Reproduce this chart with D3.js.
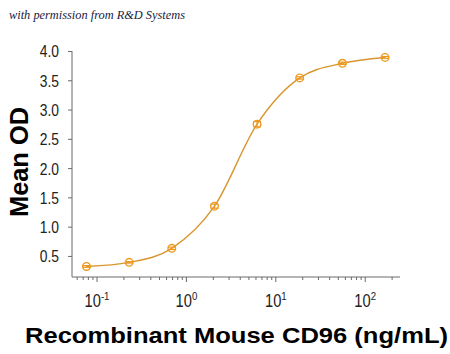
<!DOCTYPE html>
<html><head><meta charset="utf-8">
<script src="https://cdn.jsdelivr.net/npm/d3@7"></script>
<style>
html,body{margin:0;padding:0;background:#fff;}
svg{display:block;}
</style></head>
<body>
<svg id="chart" width="450" height="354"></svg>
<script>
// Data
const concentrations = [0.0762, 0.229, 0.686, 2.06, 6.17, 18.5, 55.6, 166.7];
const meanOD = [0.32, 0.39, 0.63, 1.35, 2.75, 3.54, 3.79, 3.89];
const errOD = [0.015, 0.012, 0.02, 0.035, 0.045, 0.02, 0.02, 0.015];
const yTicks = [0.5, 1.0, 1.5, 2.0, 2.5, 3.0, 3.5, 4.0];
const xMajorExponents = [-1, 0, 1, 2];

const svg = d3.select("#chart");
const lineColor = "#D9952E";
const markColor = "#EE9A22";
const axisColor = "#6a6a6a";
const tickFont = "'Liberation Sans',Arial,sans-serif";
const squeeze = 0.84;

const x = d3.scaleLog().domain([0.0525, 245]).range([72, 400]);
const y = d3.scaleLinear().domain([0.14, 4.0]).range([277, 51]);

// watermark
svg.append("text")
  .attr("x", 9).attr("y", 19)
  .attr("font-family", "'Liberation Serif','DejaVu Serif',serif")
  .attr("font-style", "italic")
  .attr("font-size", 12.5)
  .attr("fill", "#1a1a40")
  .attr("textLength", 176).attr("lengthAdjust", "spacingAndGlyphs")
  .text("with permission from R&D Systems");

// Y axis
const yAxis = d3.axisLeft(y).tickValues(yTicks).tickSize(4).tickPadding(9)
  .tickFormat(d3.format(".1f"));
const gy = svg.append("g").attr("transform", "translate(72,0)").call(yAxis);
gy.select(".domain").attr("d", `M0,${y(4.0)}V277`).attr("stroke", axisColor);
gy.selectAll(".tick line").attr("stroke", axisColor);
gy.selectAll(".tick text").attr("font-family", tickFont).attr("font-size", 16.5)
  .attr("fill", "#222").attr("dy", "0.36em")
  .attr("x", -13 / squeeze)
  .attr("transform", `scale(${squeeze},1)`);

// X axis minor/major ticks
const minorTicks = [];
for (let e = -2; e <= 2; e++) for (let m = 1; m <= 9; m++) {
  const v = m * Math.pow(10, e);
  if (v >= x.domain()[0] && v <= x.domain()[1]) minorTicks.push(v);
}
const gx = svg.append("g").attr("transform", "translate(0,277)");
gx.append("path").attr("d", `M72,0H400`).attr("stroke", axisColor).attr("fill", "none");
gx.selectAll("line.tk").data(minorTicks).join("line").attr("class", "tk")
  .attr("x1", d => x(d)).attr("x2", d => x(d))
  .attr("y1", 0).attr("y2", d => Math.abs(Math.log10(d) - Math.round(Math.log10(d))) < 1e-9 ? 5 : 3)
  .attr("stroke", axisColor).attr("stroke-width", 1);
const lbl = gx.selectAll("g.xl").data(xMajorExponents).join("g").attr("class", "xl")
  .attr("transform", d => `translate(${x(Math.pow(10, d))},30) scale(${squeeze},1)`)
  .append("text")
  .attr("text-anchor", "middle")
  .attr("font-family", tickFont).attr("font-size", 17.5).attr("fill", "#222");
lbl.append("tspan").text("10");
lbl.append("tspan").attr("dy", -7).attr("font-size", 11.5).text(d => String(d));

// curve
const pts = concentrations.map((c, i) => [x(c), y(meanOD[i])]);
svg.append("path")
  .attr("d", d3.line().curve(d3.curveMonotoneX)(pts))
  .attr("fill", "none").attr("stroke", lineColor).attr("stroke-width", 1.4);

// error bars
const eb = svg.append("g").attr("stroke", markColor).attr("stroke-width", 1.2);
concentrations.forEach((c, i) => {
  const cx = x(c), y1 = y(meanOD[i] + errOD[i]), y2 = y(meanOD[i] - errOD[i]);
  eb.append("line").attr("x1", cx).attr("x2", cx).attr("y1", y1).attr("y2", y2);
  eb.append("line").attr("x1", cx - 4).attr("x2", cx + 4).attr("y1", y1).attr("y2", y1);
  eb.append("line").attr("x1", cx - 4).attr("x2", cx + 4).attr("y1", y2).attr("y2", y2);
});

// markers
svg.append("g").selectAll("circle").data(concentrations).join("circle")
  .attr("cx", d => x(d)).attr("cy", (d, i) => y(meanOD[i])).attr("r", 3.8)
  .attr("fill", "none").attr("stroke", markColor).attr("stroke-width", 1.4);

// titles
svg.append("text")
  .attr("transform", "translate(28,162) rotate(-90)")
  .attr("text-anchor", "middle")
  .attr("font-family", "'Liberation Sans',Arial,sans-serif").attr("font-weight", "bold")
  .attr("font-size", 26).attr("fill", "#000")
  .attr("textLength", 110).attr("lengthAdjust", "spacingAndGlyphs")
  .text("Mean OD");

svg.append("text")
  .attr("x", 236.5).attr("y", 343)
  .attr("text-anchor", "middle")
  .attr("font-family", "'Liberation Sans',Arial,sans-serif").attr("font-weight", "bold")
  .attr("font-size", 22).attr("fill", "#000")
  .attr("textLength", 423).attr("lengthAdjust", "spacingAndGlyphs")
  .text("Recombinant Mouse CD96 (ng/mL)");
</script>
</body></html>
